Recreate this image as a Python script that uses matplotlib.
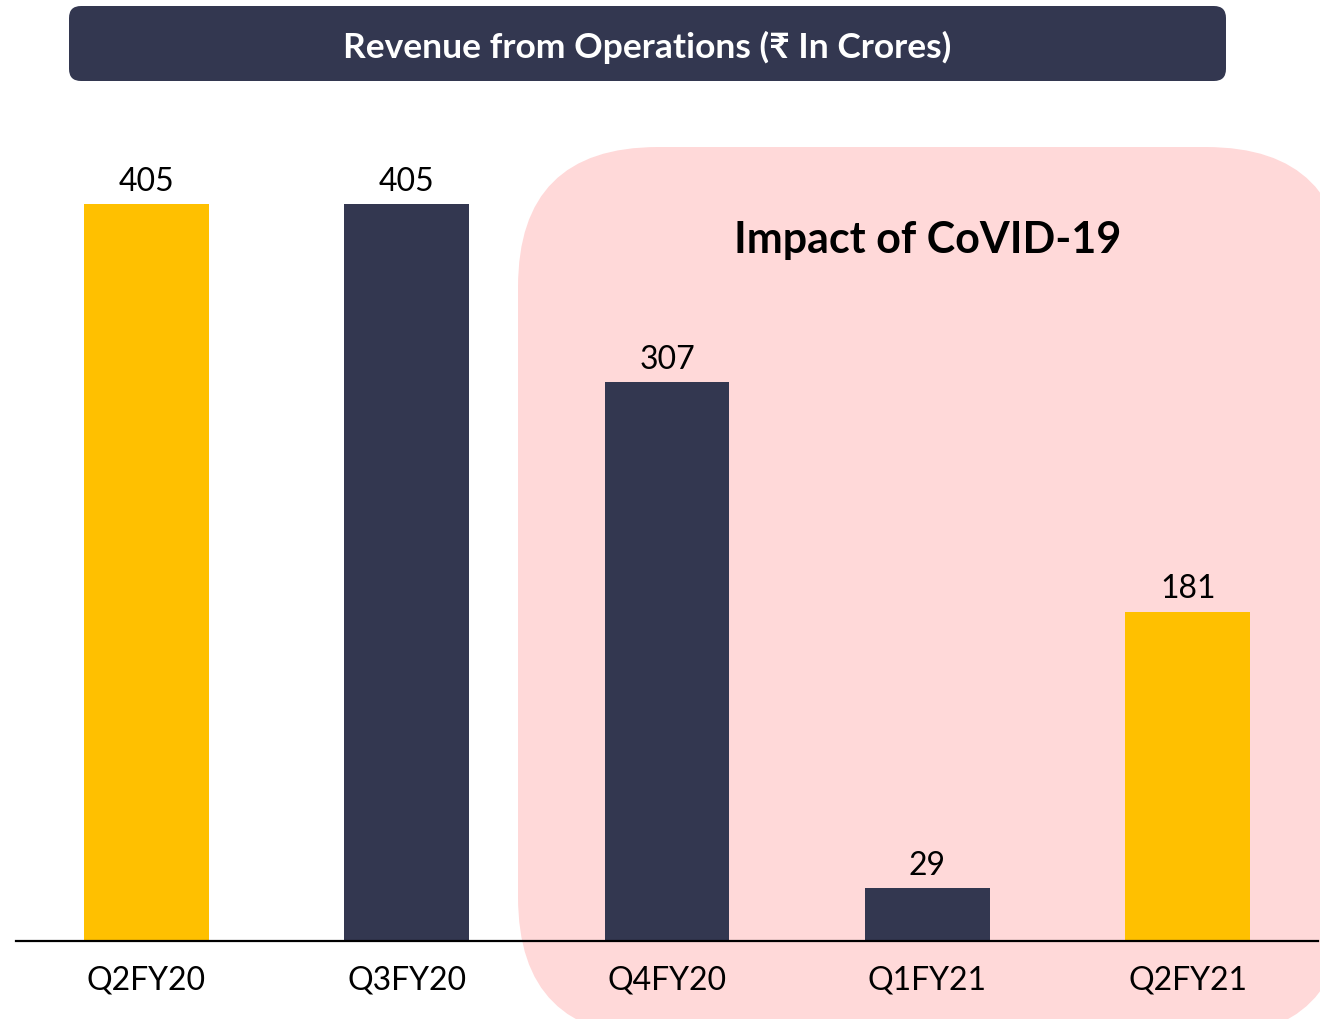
import matplotlib
matplotlib.use("Agg")
import matplotlib.pyplot as plt
from matplotlib.patches import FancyBboxPatch

categories = ["Q2FY20", "Q3FY20", "Q4FY20", "Q1FY21", "Q2FY21"]
values = [405, 405, 307, 29, 181]
value_labels = ["405", "405", "307", "29", "181"]
bar_colors = ["#FFC000", "#333750", "#333750", "#333750", "#FFC000"]
title_text = "Revenue from Operations (\u20b9 In Crores)"
covid_text = "Impact of CoVID-19"

FONT = ["Lato", "DejaVu Sans"]
plt.rcParams["font.family"] = FONT

W, H = 1320, 1020
fig = plt.figure(figsize=(W / 100, H / 100), dpi=100)

def px_rect(x0, y0, x1, y1):
    # pixel coords (top-left origin) -> inches from bottom-left
    return x0 / 100, (H - y1) / 100, (x1 - x0) / 100, (y1 - y0) / 100

# Pink COVID region
x, y, w, h = px_rect(518, 148, 1346, 1038)
pink = FancyBboxPatch((x, y), w, h, boxstyle="round,pad=0,rounding_size=1.4",
                      transform=fig.dpi_scale_trans, facecolor="#FFD9D9",
                      edgecolor="none", zorder=-1)
fig.patches.append(pink)

# Title box
x, y, w, h = px_rect(69, 7, 1226, 82)
tbox = FancyBboxPatch((x, y), w, h, boxstyle="round,pad=0,rounding_size=0.12",
                      transform=fig.dpi_scale_trans, facecolor="#333750",
                      edgecolor="none", zorder=-1)
fig.patches.append(tbox)
fig.text((69 + 1226) / 2 / W, 1 - 47 / H, title_text, color="white",
         fontsize=25.5, fontweight="bold", ha="center", va="center", family=FONT)

fig.text(928 / W, 1 - 240 / H, covid_text, color="black", fontsize=31,
         fontweight="bold", ha="center", va="center", family=FONT)

# Axes: x from 16 to 1318 px, y baseline at 940 px, top at 100 px
ax = fig.add_axes([16 / W, (H - 942) / H, (1318 - 16) / W, (942 - 100) / H])
ax.patch.set_visible(False)
xs = range(len(categories))
bars = ax.bar(xs, values, width=0.48, color=bar_colors, zorder=2)
ax.set_xlim(-0.5, len(categories) - 0.5)
ax.set_ylim(0, (942 - 100) / 1.82)
for b, lab in zip(bars, value_labels):
    ax.annotate(lab, (b.get_x() + b.get_width() / 2, b.get_height()),
                xytext=(0, 6), textcoords="offset points", ha="center",
                va="bottom", fontsize=23, color="black")
ax.set_xticks(list(xs))
ax.set_xticklabels(categories, fontsize=23)
ax.tick_params(axis="x", length=0, pad=17)
ax.set_yticks([])
for s in ["top", "right", "left"]:
    ax.spines[s].set_visible(False)
ax.spines["bottom"].set_linewidth(1.6)
ax.spines["bottom"].set_zorder(3)

fig.savefig("out.png", dpi=100)
